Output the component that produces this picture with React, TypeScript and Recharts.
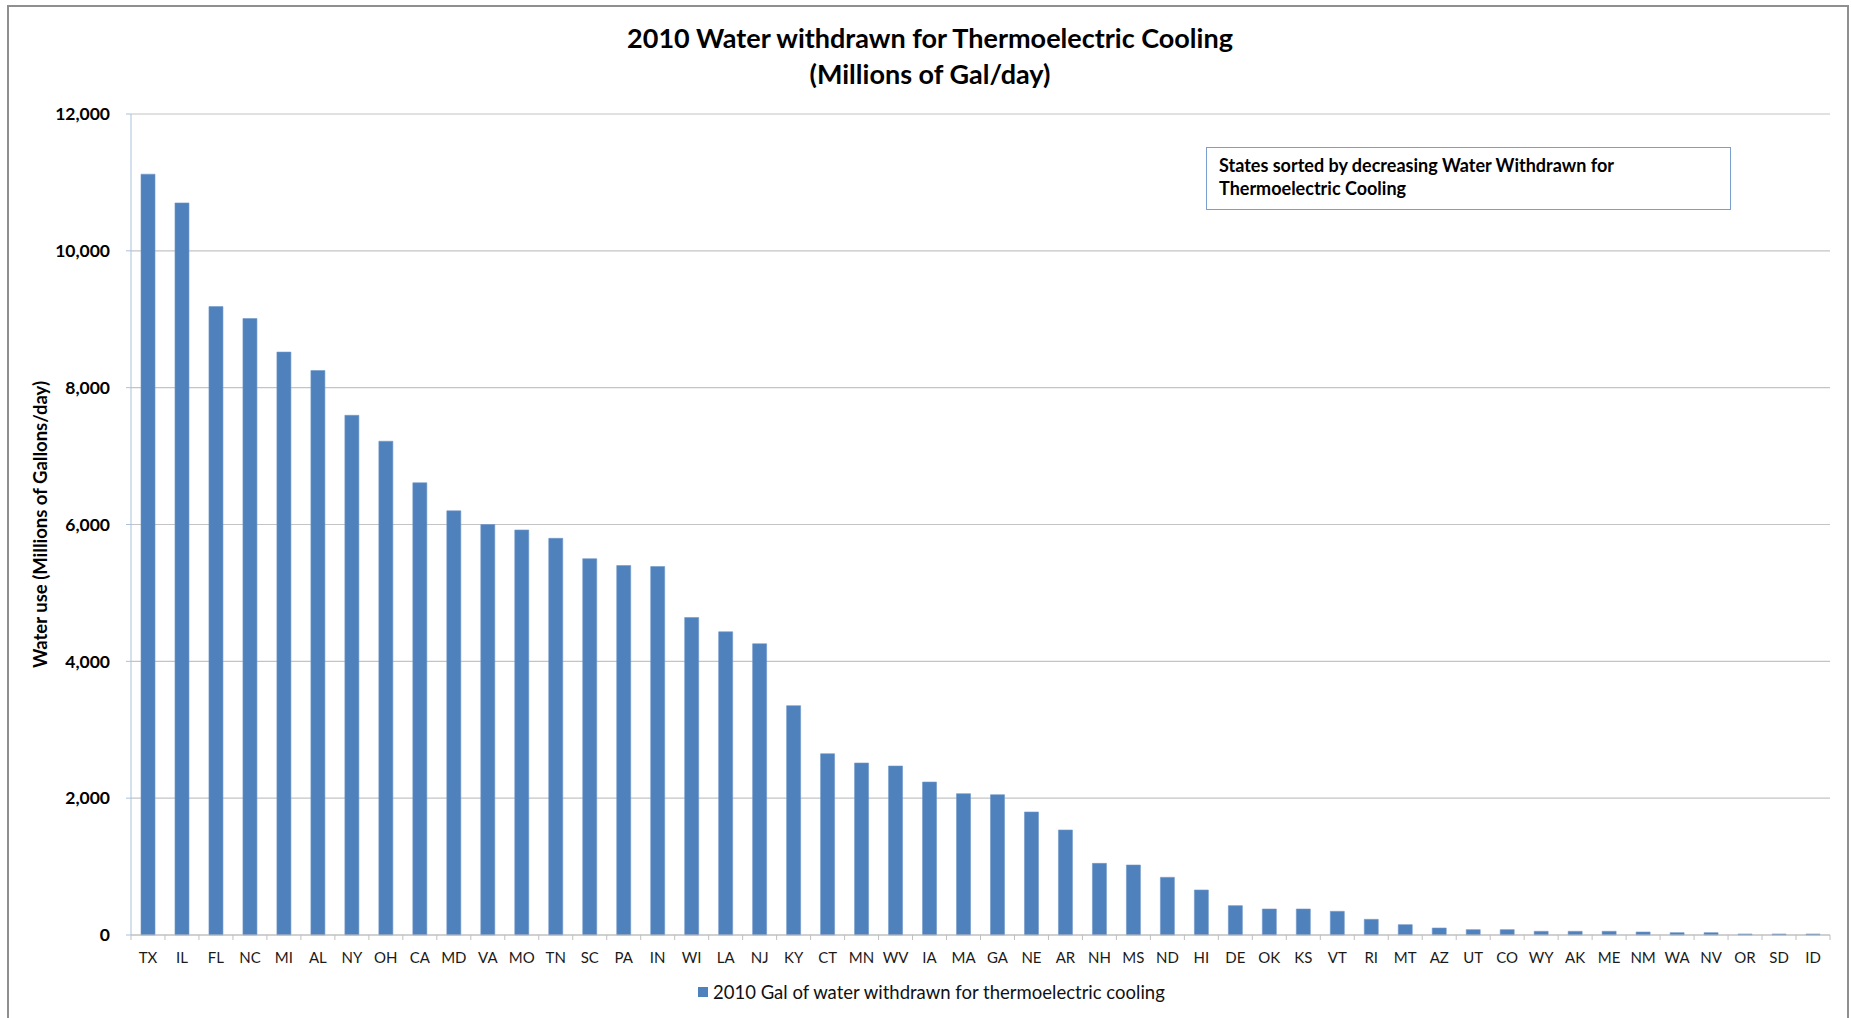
import React from 'react'
import {
  BarChart,
  Bar,
  XAxis,
  YAxis,
  CartesianGrid,
  Legend
} from 'recharts'

// States ordered by thermoelectric cooling withdrawals (Mgal/day, 2010)
const states = [
  'TX', 'IL', 'FL', 'NC', 'MI', 'AL', 'NY', 'OH', 'CA', 'MD',
  'VA', 'MO', 'TN', 'SC', 'PA', 'IN', 'WI', 'LA', 'NJ', 'KY',
  'CT', 'MN', 'WV', 'IA', 'MA', 'GA', 'NE', 'AR', 'NH', 'MS',
  'ND', 'HI', 'DE', 'OK', 'KS', 'VT', 'RI', 'MT', 'AZ', 'UT',
  'CO', 'WY', 'AK', 'ME', 'NM', 'WA', 'NV', 'OR', 'SD', 'ID'
]

const withdrawals = [
  11120, 10700, 9185, 9010, 8520, 8250, 7596, 7217, 6610, 6200,
  6000, 5920, 5798, 5500, 5400, 5385, 4641, 4432, 4257, 3352,
  2650, 2514, 2470, 2236, 2066, 2051, 1798, 1535, 1047, 1023,
  843, 658, 429, 380, 380, 346, 229, 151, 102, 78,
  78, 54, 54, 54, 44, 34, 34, 15, 15, 15
]

const yTicks = [0, 2000, 4000, 6000, 8000, 10000, 12000]

const seriesName = '2010 Gal of water withdrawn for thermoelectric cooling'

const data = states.map((state, i) => ({ state, value: withdrawals[i] }))

const FONT = 'Lato, "Open Sans", sans-serif'
const BAR_COLOR = '#4f81bd'
const W = 1851
const H = 1018
const PLOT_LEFT = 131
const PLOT_RIGHT = 1830
const PLOT_TOP = 114
const PLOT_BOTTOM = 935
const BAND = (PLOT_RIGHT - PLOT_LEFT) / states.length

const fmt = (v: number) => v.toLocaleString('en-US')

// category label plus the Excel-style tick marks on category boundaries
const StateTick = (props: any) => {
  const { x, y, payload, index } = props
  const left = x - BAND / 2
  return (
    <g>
      <line x1={left} y1={y} x2={left} y2={y + 5} stroke="#bfbfbf" />
      {index === states.length - 1 && (
        <line x1={x + BAND / 2} y1={y} x2={x + BAND / 2} y2={y + 5} stroke="#bfbfbf" />
      )}
      <text
        x={x}
        y={y + 28}
        textAnchor="middle"
        fontFamily={FONT}
        fontSize={15}
        fill="#1a1a1a"
      >
        {payload.value}
      </text>
    </g>
  )
}

const AxisTitle = (props: any) => {
  const { viewBox } = props
  const cx = 40
  const cy = viewBox.y + viewBox.height / 2
  return (
    <text
      x={cx}
      y={cy}
      transform={`rotate(-90, ${cx}, ${cy})`}
      textAnchor="middle"
      dominantBaseline="central"
      fontFamily={FONT}
      fontSize={18.5}
      fontWeight={700}
      fill="#000"
    >
      Water use (Millions of Gallons/day)
    </text>
  )
}

const LegendContent = () => (
  <div style={{ display: 'flex', alignItems: 'center', fontFamily: FONT }}>
    <span
      style={{
        width: 10,
        height: 10,
        background: BAR_COLOR,
        display: 'inline-block',
        marginRight: 5
      }}
    />
    <span style={{ fontSize: 18.5, color: '#111' }}>{seriesName}</span>
  </div>
)

export default function App() {
  return (
    <div
      style={{
        position: 'absolute',
        left: 0,
        top: 0,
        width: W,
        height: H,
        background: '#fff',
        overflow: 'hidden'
      }}
    >
      <div
        style={{
          position: 'absolute',
          left: 7,
          top: 5,
          width: 1838,
          height: 1030,
          border: '2px solid #8f8f8f'
        }}
      />
      <div
        style={{
          position: 'absolute',
          left: 0,
          top: 20,
          width: 1860,
          textAlign: 'center',
          fontFamily: FONT,
          fontWeight: 700,
          fontSize: 27,
          lineHeight: '36px',
          color: '#000'
        }}
      >
        <div>2010 Water withdrawn for Thermoelectric Cooling</div>
        <div>(Millions of Gal/day)</div>
      </div>
      <div
        style={{
          position: 'absolute',
          left: 1206,
          top: 147,
          width: 525,
          height: 63,
          boxSizing: 'border-box',
          border: '1.5px solid #7a9fcf',
          padding: '6px 12px',
          fontFamily: FONT,
          fontWeight: 700,
          fontSize: 18,
          lineHeight: '23px',
          color: '#000'
        }}
      >
        States sorted by decreasing Water Withdrawn for
        <br />
        Thermoelectric Cooling
      </div>
      <div style={{ position: 'absolute', left: 0, top: 0 }}>
        <BarChart
          width={W}
          height={H}
          data={data}
          margin={{
            top: PLOT_TOP,
            right: W - PLOT_RIGHT,
            bottom: H - PLOT_BOTTOM - 40,
            left: 0
          }}
        >
          <CartesianGrid vertical={false} stroke="#c4c4c4" strokeWidth={1.2} />
          <XAxis
            dataKey="state"
            interval={0}
            height={40}
            tickLine={false}
            tickSize={0}
            tickMargin={0}
            axisLine={{ stroke: '#bfbfbf' }}
            tick={<StateTick />}
          />
          <YAxis
            width={PLOT_LEFT}
            domain={[0, 12000]}
            ticks={yTicks}
            interval={0}
            tickFormatter={fmt}
            tickSize={5}
            tickMargin={16}
            axisLine={{ stroke: '#a9c1df' }}
            tickLine={{ stroke: '#a9c1df' }}
            tick={{ fontFamily: FONT, fontSize: 17.5, fontWeight: 700, fill: '#000' }}
            label={<AxisTitle />}
          />
          <Legend
            verticalAlign="middle"
            layout="horizontal"
            content={<LegendContent />}
            wrapperStyle={{ top: 981, left: 698, width: 'auto' }}
          />
          <Bar
            dataKey="value"
            name={seriesName}
            fill={BAR_COLOR}
            stroke="#6f97c9"
            strokeWidth={0.6}
            barSize={14}
            isAnimationActive={false}
          />
        </BarChart>
      </div>
    </div>
  )
}
